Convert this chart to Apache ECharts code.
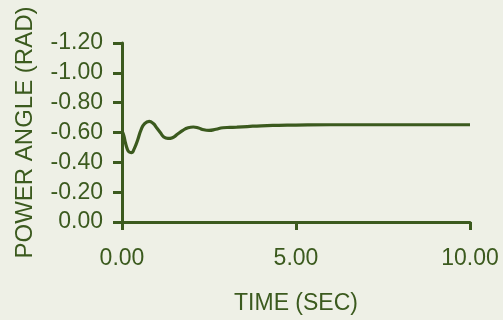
<!DOCTYPE html>
<html>
<head>
<meta charset="utf-8">
<script src="https://cdn.jsdelivr.net/npm/echarts@6/dist/echarts.min.js"></script>
<style>
html,body{margin:0;padding:0;background:#eef0e6;}
#c{width:503px;height:320px;}
</style>
</head>
<body>
<div id="c"></div>
<script>
var timeSec = [0, 0.05, 0.1, 0.15, 0.2, 0.27, 0.35, 0.45, 0.55, 0.65, 0.78, 0.9, 1.0, 1.1, 1.2, 1.32, 1.45, 1.6, 1.75, 1.9, 2.05, 2.2, 2.35, 2.5, 2.7, 2.9, 3.1, 3.3, 3.6, 4.0, 4.5, 5, 6, 7, 8, 9, 10];
var powerAngle = [-0.61, -0.58, -0.53, -0.49, -0.47, -0.465, -0.49, -0.55, -0.62, -0.66, -0.675, -0.66, -0.63, -0.60, -0.57, -0.56, -0.565, -0.59, -0.615, -0.632, -0.637, -0.630, -0.618, -0.614, -0.622, -0.632, -0.634, -0.636, -0.64, -0.645, -0.648, -0.65, -0.652, -0.652, -0.652, -0.652, -0.652];
var xTitle = 'TIME (SEC)';
var yTitle = 'POWER ANGLE (RAD)';

var ink = '#3b5a1e';
var font = 'Liberation Sans, Arial, sans-serif';
var data = timeSec.map(function(t, i){ return [t, powerAngle[i]]; });
function fmt(v){ if (Math.abs(v) < 1e-9) v = 0; return v.toFixed(2); }

var chart = echarts.init(document.getElementById('c'));
chart.setOption({
  backgroundColor: '#eef0e6',
  animation: false,
  grid: {left: 122, right: 33, top: 43, bottom: 93},
  xAxis: {
    type: 'value', min: 0, max: 10, interval: 5,
    name: xTitle, nameLocation: 'middle', nameGap: 70,
    nameTextStyle: {color: ink, fontSize: 23, fontFamily: font},
    axisLine: {show: true, lineStyle: {color: ink, width: 3}},
    axisTick: {show: true, inside: false, length: 8, lineStyle: {color: ink, width: 3}},
    axisLabel: {color: ink, fontSize: 23, fontFamily: font, margin: 25, formatter: fmt},
    splitLine: {show: false}
  },
  yAxis: {
    type: 'value', min: -1.2, max: 0, interval: 0.2, inverse: true,
    name: yTitle, nameLocation: 'middle', nameGap: 85, nameRotate: 90,
    nameTextStyle: {color: ink, fontSize: 24, fontFamily: font},
    axisLine: {show: true, lineStyle: {color: ink, width: 3}},
    axisTick: {show: true, inside: false, length: 9, lineStyle: {color: ink, width: 3}},
    axisLabel: {color: ink, fontSize: 23, fontFamily: font, margin: 19, formatter: fmt},
    splitLine: {show: false}
  },
  series: [{
    type: 'line', data: data, smooth: 0.5, showSymbol: false,
    lineStyle: {color: ink, width: 3.2}
  }]
});
</script>
</body>
</html>
